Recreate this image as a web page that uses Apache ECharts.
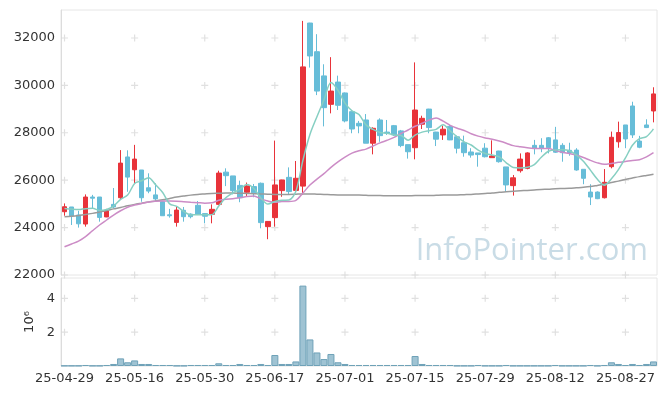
<!DOCTYPE html>
<html>
<head>
<meta charset="utf-8">
<script src="https://cdn.jsdelivr.net/npm/echarts@6/dist/echarts.min.js"></script>
<style>
html,body{margin:0;padding:0;background:#fff;}
#chart{width:665px;height:396px;}
</style>
</head>
<body>
<div id="chart"></div>
<script>
const dates = ["25-04-29","25-04-30","25-05-02","25-05-07","25-05-08","25-05-09","25-05-12","25-05-13","25-05-14","25-05-15",
"25-05-16","25-05-19","25-05-20","25-05-21","25-05-22","25-05-23","25-05-26","25-05-27","25-05-28","25-05-29",
"25-05-30","25-06-02","25-06-04","25-06-05","25-06-09","25-06-10","25-06-11","25-06-12","25-06-13","25-06-16",
"25-06-17","25-06-18","25-06-19","25-06-20","25-06-23","25-06-24","25-06-25","25-06-26","25-06-27","25-06-30",
"25-07-01","25-07-02","25-07-03","25-07-04","25-07-07","25-07-08","25-07-09","25-07-10","25-07-11","25-07-14",
"25-07-15","25-07-16","25-07-17","25-07-18","25-07-21","25-07-22","25-07-23","25-07-24","25-07-25","25-07-28",
"25-07-29","25-07-30","25-07-31","25-08-01","25-08-04","25-08-05","25-08-06","25-08-07","25-08-08","25-08-11",
"25-08-12","25-08-13","25-08-14","25-08-18","25-08-19","25-08-20","25-08-21","25-08-22","25-08-25","25-08-26",
"25-08-27","25-08-28","25-08-29","25-09-01","25-09-02"];

const openP = [24670,24870,24530,24150,25290,25290,24450,24980,25260,26980,
26440,26430,25680,25380,25090,24540,24220,24730,24570,24940,
24590,24560,24980,26340,26180,25780,25490,25730,25870,24040,
24420,25560,26120,25570,25750,32630,31420,30400,29200,30140,
29680,28890,28400,28540,27560,28540,28030,28300,28080,27500,
27370,28360,29000,28030,27910,28270,27830,27580,27190,27150,
27350,26950,27230,26560,25770,26400,26500,27470,27470,27790,
27700,27470,27260,27270,26460,25500,25500,25260,26570,27620,
28330,29130,27650,28330,28920];
const closeP = [24880,24490,24160,25290,25240,24430,24700,24870,26720,26130,
26890,25260,25540,25210,24500,24500,24740,24460,24460,24560,
24480,24770,26300,26190,25560,25260,25760,25470,24210,24260,
25800,26010,25520,26080,30780,31240,29760,29060,29760,29160,
28500,28160,28290,27560,28190,27880,27990,27910,27460,27200,
28960,28610,28220,27730,28150,27700,27350,27160,27060,27080,
26990,27020,26780,25800,26100,26890,27150,27350,27340,27370,
27180,27160,27160,26430,26080,25290,25220,25910,27810,28010,
27740,27910,27390,28220,29640];
const lowP = [24500,24110,24000,24040,24810,24250,24440,24810,25200,25510,
25870,25090,25450,25090,24500,24420,24040,24250,24390,24530,
24180,24180,24950,25750,25400,25070,25300,25280,23970,23510,
24040,25300,25400,25540,25380,30750,29590,28270,28820,28960,
28440,27980,27980,27560,27090,27620,27910,27870,27390,26910,
26880,28160,27980,27440,27700,27690,27130,26990,26950,26570,
26960,26950,26740,25510,25350,26320,26460,27090,27180,27130,
27150,26780,27030,26400,25830,24950,25200,25230,26500,27370,
27350,27780,27350,28200,28440];
const highP = [25020,24870,24710,25400,25380,25290,24790,25670,27270,27260,
27490,26430,26290,25870,25100,24790,24880,24870,24600,25120,
24600,24980,26400,26500,26180,25980,25900,25840,25900,24270,
27670,26020,26540,26810,32720,32640,32160,30890,31190,30410,
29700,28900,28500,28790,28230,28610,28540,28330,28120,27500,
30970,28720,29010,28040,28300,28330,27880,27880,27350,27150,
27560,27680,27240,26560,26220,27130,27180,27700,27770,27820,
28250,27560,27580,27350,26460,25830,25530,26470,28050,28470,
28330,29310,27870,28570,29920];

// volume in millions of shares
const volume = [0.02,0.02,0.02,0.06,0.02,0.02,0.06,0.12,0.45,0.22,
0.33,0.12,0.12,0.06,0.06,0.06,0.02,0.02,0.06,0.06,
0.06,0.06,0.16,0.06,0.06,0.12,0.06,0.06,0.12,0.06,
0.65,0.12,0.12,0.27,4.75,1.57,0.80,0.41,0.71,0.22,
0.12,0.06,0.06,0.06,0.06,0.06,0.06,0.06,0.06,0.06,
0.59,0.12,0.06,0.06,0.06,0.06,0.02,0.02,0.02,0.06,
0.02,0.02,0.02,0.06,0.02,0.02,0.02,0.02,0.02,0.02,
0.06,0.02,0.02,0.02,0.02,0.06,0.02,0.06,0.22,0.12,
0.06,0.12,0.06,0.12,0.27];

const ma5 = [24810,24780,24760,24800,24812,24722,24764,24906,25192,25370,
25862,25974,26108,25806,25480,25002,24898,24682,24532,24544,
24540,24546,24914,25260,25460,25616,25814,25648,25252,24992,
25100,25150,25160,25534,26838,27926,28676,29384,30120,29796,
29248,28928,28774,28334,28140,28016,27982,27906,27886,27688,
27904,28028,28090,28144,28334,28082,27830,27618,27484,27270,
27128,27062,26986,26734,26538,26518,26544,26658,26966,27220,
27278,27280,27242,27060,26802,26424,26036,25786,26062,26448,
26938,27476,27754,27836,28164];
const ma20 = [23190,23310,23430,23620,23870,24110,24320,24530,24710,24860,
24950,25020,25080,25110,25120,25120,25110,25090,25070,25052,
25032,25046,25153,25198,25214,25255,25308,25338,25213,25119,
25065,25102,25101,25145,25459,25796,26047,26277,26542,26772,
26973,27142,27242,27310,27442,27573,27684,27806,27969,28116,
28274,28404,28539,28621,28490,28313,28192,28097,27962,27858,
27783,27726,27650,27562,27458,27408,27366,27338,27332,27341,
27252,27179,27126,27061,26958,26837,26731,26668,26706,26752,
26790,26834,26860,26981,27159];
const maLong = [24460,24480,24510,24550,24600,24660,24720,24790,24850,24920,
24980,25030,25080,25120,25170,25230,25290,25330,25370,25400,
25420,25440,25450,25460,25460,25450,25440,25430,25420,25410,
25400,25400,25400,25410,25420,25420,25410,25400,25390,25380,
25380,25370,25370,25360,25350,25350,25340,25340,25340,25340,
25350,25350,25350,25360,25370,25370,25380,25390,25400,25420,
25440,25460,25490,25510,25530,25550,25570,25590,25610,25620,
25640,25650,25660,25680,25700,25730,25780,25830,25900,25960,
26030,26090,26150,26200,26250];

const priceTicks = [22000,24000,26000,28000,30000,32000];
const volTicks = [2,4];
const labelEvery = 10;

const candleData = dates.map((d,i)=>[openP[i],closeP[i],lowP[i],highP[i]]);
const tickCats = dates.filter((d,i)=>i%labelEvery===0);
const crossMain = [];
tickCats.forEach(c=>priceTicks.forEach(v=>crossMain.push([c,v])));
const crossVol = [];
tickCats.forEach(c=>volTicks.forEach(v=>crossVol.push([c,v])));

const FONT = 'DejaVu Sans';
const crossSym = 'path://M0,2.5h6v1h-6zM2.5,0h1v6h-1z';

const chart = echarts.init(document.getElementById('chart'), null, {renderer:'canvas'});
chart.setOption({
  animation:false,
  backgroundColor:'#fff',
  textStyle:{fontFamily:FONT},
  grid:[
    {left:61,right:8,top:10,height:265,show:true,borderColor:'#e6e6e6',borderWidth:1},
    {left:61,right:8,top:278,height:88,show:true,borderColor:'#e6e6e6',borderWidth:1}
  ],
  xAxis:[
    {type:'category',gridIndex:0,data:dates,boundaryGap:true,
     axisLine:{show:false},axisTick:{show:false},axisLabel:{show:false},splitLine:{show:false}},
    {type:'category',gridIndex:1,data:dates,boundaryGap:true,
     axisLine:{show:false},axisTick:{show:false},
     axisLabel:{interval:labelEvery-1,color:'#333',fontSize:13,fontFamily:FONT,margin:6},
     splitLine:{show:false}}
  ],
  yAxis:[
    {type:'value',gridIndex:0,min:22000,max:33180,interval:2000,
     axisLine:{show:true,lineStyle:{color:'#dcdcdc'}},axisTick:{show:false},
     axisLabel:{color:'#333',fontSize:13,fontFamily:FONT,showMaxLabel:false,margin:6,
       formatter:v=>String(v)},
     splitLine:{show:false}},
    {type:'value',gridIndex:1,min:0,max:5.2,interval:2,
     name:'10⁶',nameLocation:'middle',nameRotate:90,nameGap:24,
     nameTextStyle:{color:'#333',fontSize:13,fontFamily:FONT},
     axisLine:{show:true,lineStyle:{color:'#dcdcdc'}},axisTick:{show:false},
     axisLabel:{color:'#333',fontSize:13,fontFamily:FONT,showMinLabel:false,showMaxLabel:false,margin:6,
       formatter:v=>String(v)},
     splitLine:{show:false}}
  ],
  graphic:[
    {type:'text',right:17,top:236,z:0,silent:true,
     style:{text:'InfoPointer.com',font:'31px "Open Sans"',fill:'#c9dce6'}}
  ],
  series:[
    {type:'scatter',xAxisIndex:0,yAxisIndex:0,data:crossMain,symbol:crossSym,symbolSize:7,
     itemStyle:{color:'#d8d8d8'},silent:true,z:1},
    {type:'scatter',xAxisIndex:1,yAxisIndex:1,data:crossVol,symbol:crossSym,symbolSize:7,
     itemStyle:{color:'#d8d8d8'},silent:true,z:1},
    {type:'candlestick',xAxisIndex:0,yAxisIndex:0,data:candleData,barWidth:'72%',
     itemStyle:{color:'#e8333a',color0:'#67bdd8',borderColor:'#e8333a',borderColor0:'#67bdd8',borderWidth:1},z:3},
    {type:'line',xAxisIndex:0,yAxisIndex:0,data:maLong,symbol:'none',smooth:0.3,
     lineStyle:{color:'#9a9a9a',width:1.5},z:4},
    {type:'line',xAxisIndex:0,yAxisIndex:0,data:ma20,symbol:'none',smooth:0.3,
     lineStyle:{color:'#cc8cc6',width:1.5},z:4},
    {type:'line',xAxisIndex:0,yAxisIndex:0,data:ma5,symbol:'none',smooth:0.3,
     lineStyle:{color:'#86cfc2',width:1.5},z:4},
    {type:'bar',xAxisIndex:1,yAxisIndex:1,data:volume,barWidth:'100%',
     itemStyle:{color:'#9fc3d3',borderColor:'#6fa2b8',borderWidth:1},z:3}
  ]
});
</script>
</body>
</html>
